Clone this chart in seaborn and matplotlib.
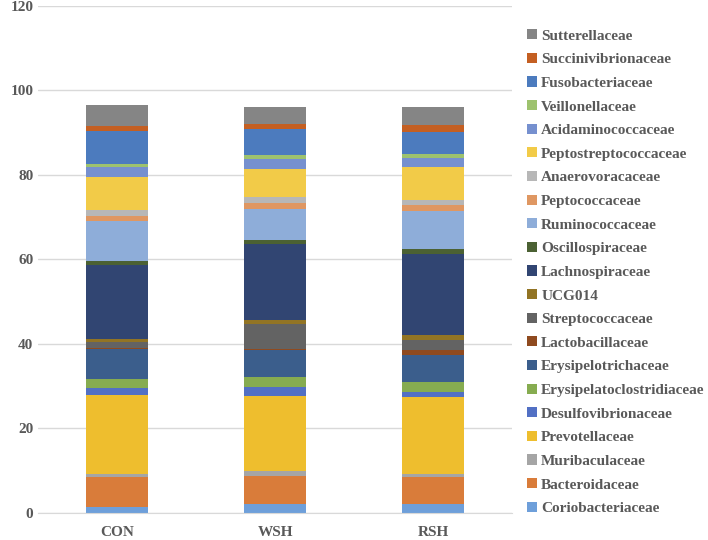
import numpy as np
import pandas as pd
import matplotlib
matplotlib.use('Agg')
import matplotlib.pyplot as plt
import seaborn as sns

# data (stacking order, bottom -> top)
groups = ['CON', 'WSH', 'RSH']
families = ['Coriobacteriaceae', 'Bacteroidaceae', 'Muribaculaceae', 'Prevotellaceae',
            'Desulfovibrionaceae', 'Erysipelatoclostridiaceae', 'Erysipelotrichaceae',
            'Lactobacillaceae', 'Streptococcaceae', 'UCG014', 'Lachnospiraceae',
            'Oscillospiraceae', 'Ruminococcaceae', 'Peptococcaceae', 'Anaerovoracaceae',
            'Peptostreptococcaceae', 'Acidaminococcaceae', 'Veillonellaceae',
            'Fusobacteriaceae', 'Succinivibrionaceae', 'Sutterellaceae']
con = [1.35, 7.1, 0.85, 18.66, 1.64, 2.2, 6.9, 0.3, 1.4, 0.8, 17.4,
       0.95, 9.45, 1.4, 1.3, 7.9, 2.3, 0.7, 7.85, 1.25, 4.9]
wsh = [2.13, 6.7, 1.05, 17.9, 2.0, 2.3, 6.4, 0.3, 5.9, 1.1, 17.8,
       1.0, 7.4, 1.4, 1.4, 6.7, 2.3, 1.0, 6.0, 1.2, 4.0]
rsh = [2.13, 6.3, 0.85, 18.1, 1.3, 2.3, 6.5, 1.05, 2.45, 1.25, 19.05,
       1.3, 8.9, 1.5, 1.2, 7.7, 2.1, 1.0, 5.3, 1.6, 4.2]
colors = ['#6E9FDA', '#D97C3A', '#A5A5A5', '#EEBE2E', '#5270C4', '#86AC50', '#3B5E8C',
          '#8F4A1F', '#636363', '#927424', '#314572', '#4B6133', '#8EADD9', '#DF9762',
          '#B7B7B7', '#F2CB48', '#7690CF', '#9DC26E', '#4C7BBE', '#C45F22', '#858585']

df = pd.DataFrame({'CON': con, 'WSH': wsh, 'RSH': rsh}, index=families)
cum = df.cumsum()

sns.set_style('white')
plt.rcParams['font.family'] = ['Liberation Serif', 'DejaVu Serif']
plt.rcParams['font.weight'] = 'bold'
txt = '#595959'

fig = plt.figure(figsize=(7.08, 5.4), dpi=100)
ax = fig.add_axes([0.054, 0.05, 0.669, 0.939])

# draw cumulative bars from the top down so each covers the part below it
for fam, col in reversed(list(zip(families, colors))):
    sns.barplot(x=groups, y=cum.loc[fam, groups].values, color=col, width=0.39,
                saturation=1, label=fam, ax=ax, linewidth=0)
h, l = ax.get_legend_handles_labels()
if ax.get_legend() is not None:
    ax.get_legend().remove()

ax.set_ylim(0, 120)
ax.set_yticks(range(0, 121, 20))
ax.grid(axis='y', color='#D9D9D9', linewidth=1)
ax.set_axisbelow(True)
for s in ['top', 'right', 'left']:
    ax.spines[s].set_visible(False)
ax.spines['bottom'].set_color('#D9D9D9')
ax.tick_params(axis='both', length=0, colors=txt, labelsize=11)
ax.tick_params(axis='x', pad=9)
for lab in ax.get_xticklabels() + ax.get_yticklabels():
    lab.set_fontweight('bold')

leg = fig.legend(h, l, loc='upper left', bbox_to_anchor=(0.744, 0.946), frameon=False,
                 fontsize=11, handlelength=0.65, handleheight=0.65, handletextpad=0.3,
                 labelspacing=0.665, borderpad=0, borderaxespad=0)
for t in leg.get_texts():
    t.set_color(txt)
    t.set_fontweight('bold')

fig.savefig('out.png', dpi=100)
